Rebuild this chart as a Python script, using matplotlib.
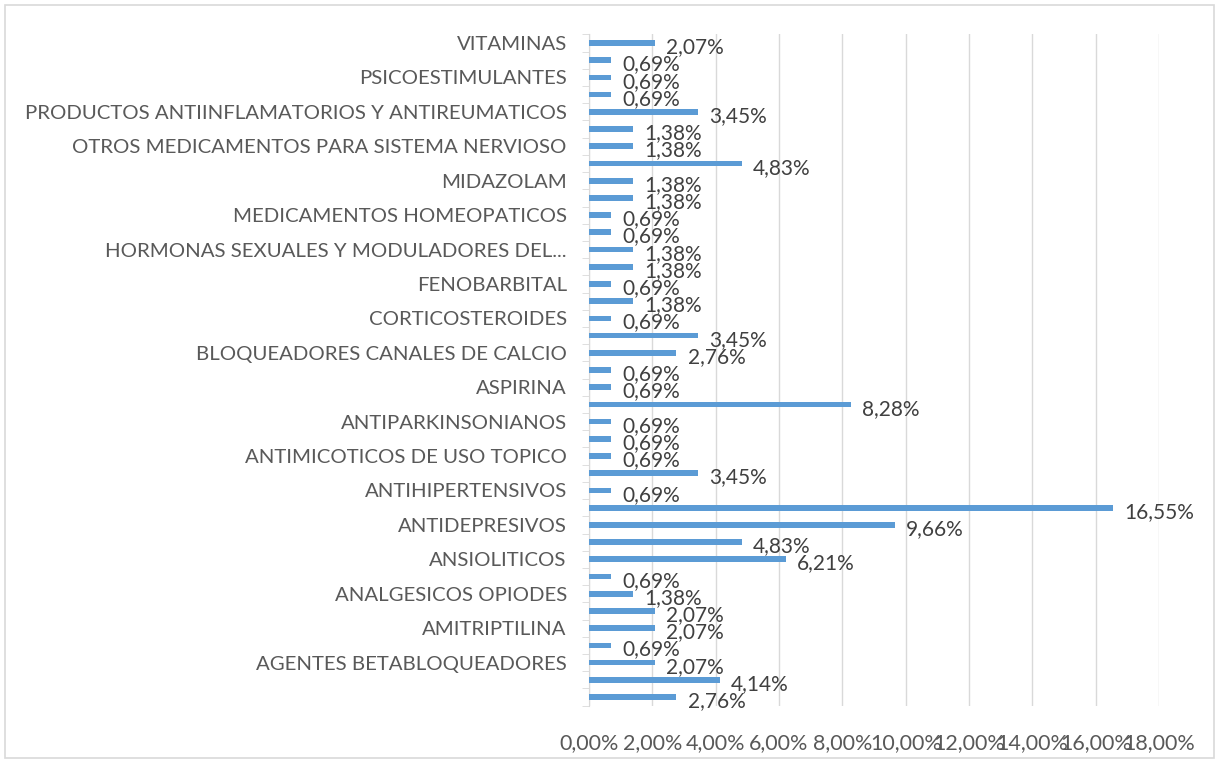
import matplotlib.pyplot as plt
import numpy as np

# categorias de abajo hacia arriba (solo se ven las etiquetas alternas)
labels = ["", "", "AGENTES BETABLOQUEADORES", "", "AMITRIPTILINA", "",
          "ANALGESICOS OPIODES", "", "ANSIOLITICOS", "", "ANTIDEPRESIVOS", "",
          "ANTIHIPERTENSIVOS", "", "ANTIMICOTICOS DE USO TOPICO", "",
          "ANTIPARKINSONIANOS", "", "ASPIRINA", "",
          "BLOQUEADORES CANALES DE CALCIO", "", "CORTICOSTEROIDES", "",
          "FENOBARBITAL", "", "HORMONAS SEXUALES Y MODULADORES DEL...", "",
          "MEDICAMENTOS HOMEOPATICOS", "", "MIDAZOLAM", "",
          "OTROS MEDICAMENTOS PARA SISTEMA NERVIOSO", "",
          "PRODUCTOS ANTIINFLAMATORIOS Y ANTIREUMATICOS", "",
          "PSICOESTIMULANTES", "", "VITAMINAS"]
values = [2.76, 4.14, 2.07, 0.69, 2.07, 2.07, 1.38, 0.69, 6.21, 4.83,
          9.66, 16.55, 0.69, 3.45, 0.69, 0.69, 0.69, 8.28, 0.69, 0.69,
          2.76, 3.45, 0.69, 1.38, 0.69, 1.38, 1.38, 0.69, 0.69, 1.38,
          1.38, 4.83, 1.38, 1.38, 3.45, 0.69, 0.69, 0.69, 2.07]
xticks = np.arange(0, 20, 2)

plt.rcParams['font.family'] = ['Lato', 'DejaVu Sans']
txt = '#595959'
grid = '#d9d9d9'

fig = plt.figure(figsize=(12.19, 7.63), dpi=100)
ax = fig.add_axes([0.4832, 0.0752, 0.4676, 0.8797])

y = np.arange(len(values))
ax.barh(y, values, height=0.33, color='#5b9bd5', zorder=3)

for yi, v in zip(y, values):
    ax.annotate(f"{v:.2f}%".replace('.', ','), (v, yi), xytext=(8, -3),
                textcoords='offset points', va='center', ha='left',
                fontsize=15, color='#404040')

ax.set_xlim(0, 18)
ax.set_ylim(-0.5, len(values) - 0.5)
ax.set_xticks(xticks)
ax.set_xticklabels([f"{t:.2f}%".replace('.', ',') for t in xticks],
                   fontsize=15.5, color=txt)
ax.set_yticks(y)
ax.set_yticklabels(labels, fontsize=14.7, color=txt)
ax.set_yticks(np.arange(-0.5, len(values)), minor=True)
ax.tick_params(axis='y', which='major', length=0, pad=16)
ax.tick_params(axis='y', which='minor', length=5, color=grid, direction='out')
ax.tick_params(axis='x', length=0, pad=20)
ax.grid(axis='x', color=grid, lw=1, zorder=0)

for s in ['top', 'right', 'bottom']:
    ax.spines[s].set_visible(False)
ax.spines['left'].set_color(grid)

fig.patches.append(plt.Rectangle((0.004, 0.006), 0.992, 0.988, fill=False,
                                 edgecolor='#d9d9d9', lw=1.2,
                                 transform=fig.transFigure))

fig.savefig('out.png', dpi=100)
